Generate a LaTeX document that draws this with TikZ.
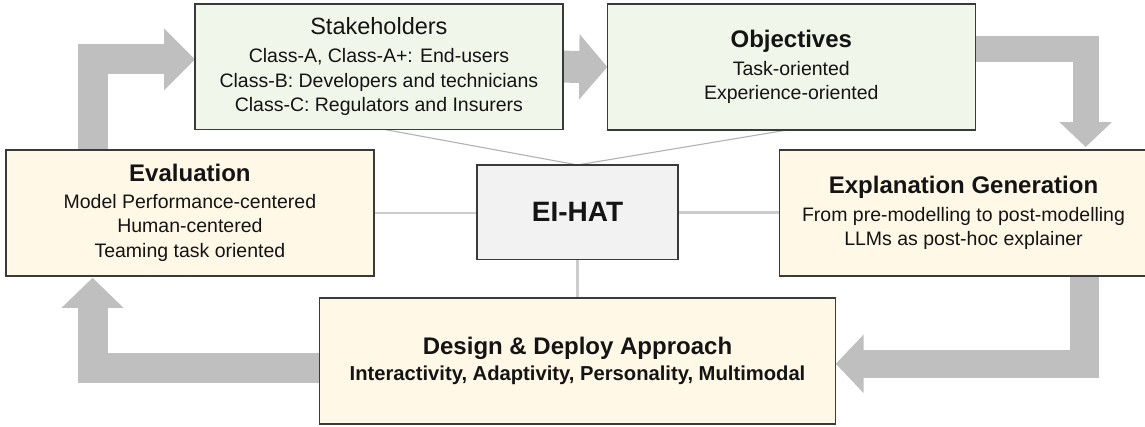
\documentclass[tikz,border=0pt]{standalone}
\usepackage{fontspec}
\setmainfont{Liberation Sans}
\usetikzlibrary{arrows.meta,calc}
\definecolor{boxgreen}{HTML}{F0F6EA}
\definecolor{boxcream}{HTML}{FFF8E7}
\definecolor{boxgray}{HTML}{F2F2F2}
\definecolor{boxline}{HTML}{3A3A3A}
\definecolor{flowgray}{HTML}{BFBFBF}
\definecolor{linkgray}{HTML}{CCCCCC}
\newcommand\titlereg[1]{{\fontsize{23.5}{28}\selectfont #1}}
\newcommand\titlebf[1]{{\fontsize{24}{28}\selectfont\bfseries #1}}
\pgfdeclarelayer{bg}
\pgfsetlayers{bg,main}
\begin{document}
\begin{tikzpicture}[x=1pt,y=-1pt,
  box/.style={draw=boxline, line width=1.5pt, inner sep=0pt, outer sep=0pt,
    align=center, font=\fontsize{19.5}{24.5}\selectfont, text=black!92},
  flow/.style={draw=flowgray, line width=#1, line join=miter},
  thinlink/.style={draw=linkgray, line width=2.5pt},
  slantlink/.style={draw=black!30, line width=1.1pt}]
\useasboundingbox (0,0) rectangle (1145,426);
\clip (0,0) rectangle (1145,426);

% nodes
\node[box, fill=boxgreen, minimum width=367.7pt, minimum height=125.3pt] (stake) at (378.9,66.7)
  {\titlereg{Stakeholders}\\[3.5pt]Class-A, Class-A+: End-users\\Class-B: Developers and technicians\\Class-C: Regulators and Insurers};
\node[box, fill=boxgreen, minimum width=368pt, minimum height=126pt] (obj) at (791.3,67)
  {\titlebf{Objectives}\\[3.5pt]Task-oriented\\Experience-oriented};
\node[box, fill=boxcream, minimum width=367.7pt, minimum height=125.7pt] (eval) at (189.9,212.9)
  {\titlebf{Evaluation}\\[2pt]Model Performance-centered\\Human-centered\\Teaming task oriented};
\node[box, fill=boxgray, minimum width=201pt, minimum height=94.7pt, font=\fontsize{28}{32}\selectfont\bfseries] (ei) at (577.5,212.3) {EI-HAT};
\node[box, fill=boxcream, minimum width=367.7pt, minimum height=125.7pt] (expl) at (963.5,212.9)
  {\titlebf{Explanation Generation}\\[3.5pt]From pre-modelling to post-modelling\\LLMs as post-hoc explainer};
\node[box, fill=boxcream, minimum width=516.4pt, minimum height=125.7pt, font=\fontsize{20.2}{24.5}\selectfont\bfseries] (design) at (577.5,360.9)
  {\titlebf{Design \& Deploy Approach}\\[2pt]Interactivity, Adaptivity, Personality, Multimodal};

\begin{pgfonlayer}{bg}
% flow arrows (behind boxes)
\draw[flow=30pt, -{Triangle[length=31pt,width=60pt]}]
  ([xshift=86.5pt]eval.north west) |- ([yshift=7.4pt]stake.west);
\draw[flow=32pt, -{Triangle[length=28pt,width=64pt]}]
  (stake.east) -- (obj.west);
\draw[flow=26pt, -{Triangle[length=25pt,width=51pt]}]
  ([yshift=17.8pt]obj.east) -| ([xshift=306pt,yshift=3pt]expl.north west);
\draw[flow=28.5pt, -{Triangle[length=28pt,width=57pt]}]
  ([xshift=304.6pt]expl.south west) |- ([yshift=-2.9pt]design.east);
\draw[flow=30pt, -{Triangle[length=30pt,width=60pt]}]
  ([yshift=-7.1pt]design.west) -| ([xshift=86.5pt,yshift=-2pt]eval.south west);

% thin links
\draw[slantlink] ([xshift=5pt]stake.south) -- (ei.north);
\draw[slantlink] ([xshift=-4pt]obj.south) -- (ei.north);
\draw[thinlink] (eval.east) -- (eval.east -| ei.west);
\draw[thinlink] (ei.east) -- (ei.east -| expl.west);
\draw[thinlink] (ei.south) -- (design.north);
\end{pgfonlayer}
\end{tikzpicture}
\end{document}
